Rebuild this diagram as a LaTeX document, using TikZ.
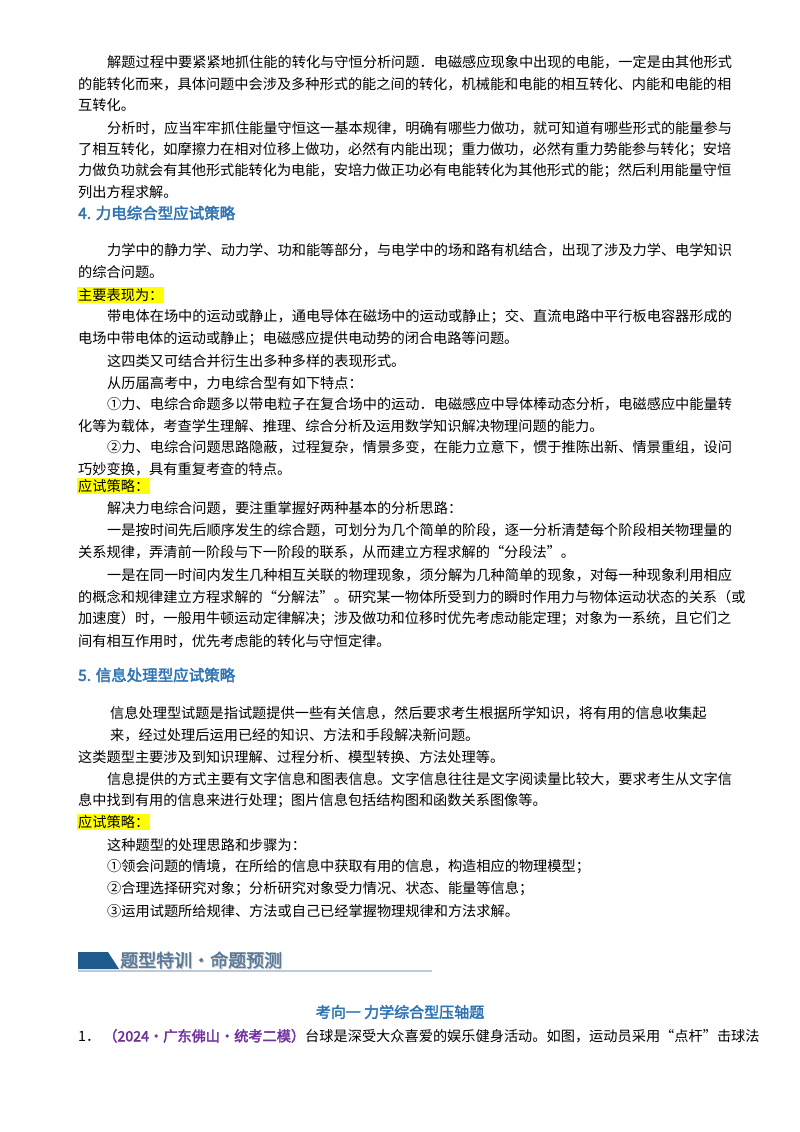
\documentclass[tikz,border=0pt]{standalone}
\usepackage{fontspec}
\setmainfont{Noto Sans CJK SC}[AutoFakeBold=2.5]
\definecolor{hblue}{HTML}{2E74B5}
\definecolor{hl}{HTML}{FFFF00}
\definecolor{purp}{HTML}{7030A0}
\definecolor{bnr}{HTML}{1F5A8C}
\definecolor{bnrt}{HTML}{5B7A9A}
\begin{document}
\begin{tikzpicture}[x=1pt,y=-1pt,
  ln/.style={anchor=west,inner sep=0pt,font=\fontsize{14.2}{16}\selectfont},
  hd/.style={anchor=west,inner sep=0pt,font=\fontsize{15.5}{18}\selectfont\bfseries,text=hblue},
  hilite/.style={fill=hl,inner sep=1pt}]
\useasboundingbox (0,0) rectangle (800,1132);
\fill[white] (0,0) rectangle (800,1132);
\def\L{78}\def\I{107}
\node[ln] (a1) at (\I,62) {解题过程中要紧紧地抓住能的转化与守恒分析问题．电磁感应现象中出现的电能，一定是由其他形式};
\node[ln] (a2) at (\L,84) {的能转化而来，具体问题中会涉及多种形式的能之间的转化，机械能和电能的相互转化、内能和电能的相};
\node[ln] (a3) at (\L,105) {互转化。};
\node[ln] (a4) at (\I,128) {分析时，应当牢牢抓住能量守恒这一基本规律，明确有哪些力做功，就可知道有哪些形式的能量参与};
\node[ln] (a5) at (\L,150) {了相互转化，如摩擦力在相对位移上做功，必然有内能出现；重力做功，必然有重力势能参与转化；安培};
\node[ln] (a6) at (\L,171) {力做负功就会有其他形式能转化为电能，安培力做正功必有电能转化为其他形式的能；然后利用能量守恒};
\node[ln] (a7) at (\L,192) {列出方程求解。};
\node[hd] (h4) at (\L,213) {4. 力电综合型应试策略};
\node[ln] (b1) at (\I,250) {力学中的静力学、动力学、功和能等部分，与电学中的场和路有机结合，出现了涉及力学、电学知识};
\node[ln] (b2) at (\L,272) {的综合问题。};
\node[ln,hilite] (m1) at (\L-1,295) {主要表现为：};
\node[ln] (b3) at (\I,317) {带电体在场中的运动或静止，通电导体在磁场中的运动或静止；交、直流电路中平行板电容器形成的};
\node[ln] (b4) at (\L,339) {电场中带电体的运动或静止；电磁感应提供电动势的闭合电路等问题。};
\node[ln] (b5) at (\I,361) {这四类又可结合并衍生出多种多样的表现形式。};
\node[ln] (b6) at (\I,383) {从历届高考中，力电综合型有如下特点：};
\node[ln] (b7) at (\I,404) {①力、电综合命题多以带电粒子在复合场中的运动．电磁感应中导体棒动态分析，电磁感应中能量转};
\node[ln] (b8) at (\L,426) {化等为载体，考查学生理解、推理、综合分析及运用数学知识解决物理问题的能力。};
\node[ln] (b9) at (\I,447) {②力、电综合问题思路隐蔽，过程复杂，情景多变，在能力立意下，惯于推陈出新、情景重组，设问};
\node[ln] (b10) at (\L,469) {巧妙变换，具有重复考查的特点。};
\node[ln,hilite] (m2) at (\L-1,486) {应试策略：};
\node[ln] (c1) at (\I,508) {解决力电综合问题，要注重掌握好两种基本的分析思路：};
\node[ln] (c2) at (\I,530) {一是按时间先后顺序发生的综合题，可划分为几个简单的阶段，逐一分析清楚每个阶段相关物理量的};
\node[ln] (c3) at (\L,552) {关系规律，弄清前一阶段与下一阶段的联系，从而建立方程求解的“分段法”。};
\node[ln] (c4) at (\I,575) {一是在同一时间内发生几种相互关联的物理现象，须分解为几种简单的现象，对每一种现象利用相应};
\node[ln] (c5) at (\L,597) {的概念和规律建立方程求解的“分解法”。研究某一物体所受到力的瞬时作用力与物体运动状态的关系（或};
\node[ln] (c6) at (\L,619) {加速度）时，一般用牛顿运动定律解决；涉及做功和位移时优先考虑动能定理；对象为一系统，且它们之};
\node[ln] (c7) at (\L,641) {间有相互作用时，优先考虑能的转化与守恒定律。};
\node[hd] (h5) at (\L,675) {5. 信息处理型应试策略};
\node[ln] (d1) at (110,713) {信息处理型试题是指试题提供一些有关信息，然后要求考生根据所学知识，将有用的信息收集起};
\node[ln] (d2) at (110,735) {来，经过处理后运用已经的知识、方法和手段解决新问题。};
\node[ln] (d3) at (\L,757) {这类题型主要涉及到知识理解、过程分析、模型转换、方法处理等。};
\node[ln] (d4) at (\I,779) {信息提供的方式主要有文字信息和图表信息。文字信息往往是文字阅读量比较大，要求考生从文字信};
\node[ln] (d5) at (\L,801) {息中找到有用的信息来进行处理；图片信息包括结构图和函数关系图像等。};
\node[ln,hilite] (m3) at (\L-1,822) {应试策略：};
\node[ln] (e1) at (\I,845) {这种题型的处理思路和步骤为：};
\node[ln] (e2) at (\I,867) {①领会问题的情境，在所给的信息中获取有用的信息，构造相应的物理模型；};
\node[ln] (e3) at (\I,889) {②合理选择研究对象；分析研究对象受力情况、状态、能量等信息；};
\node[ln] (e4) at (\I,911) {③运用试题所给规律、方法或自己已经掌握物理规律和方法求解。};
% banner
\fill[bnr] (78,952) -- (108,952) -- (119,969) -- (78,969) -- cycle;
\draw[bnrt!40,line width=1.2pt] (78,971) -- (432,971);
\node[anchor=west,inner sep=0pt,font=\fontsize{18}{20}\selectfont\bfseries,text=black!15] at (121,961) {题型特训·命题预测};
\node[anchor=west,inner sep=0pt,font=\fontsize{18}{20}\selectfont\bfseries,text=bnrt] (bn) at (120,960) {题型特训·命题预测};
\node[inner sep=0pt,font=\fontsize{15}{18}\selectfont\bfseries,text=hblue] (k1) at (400,1012) {考向一 力学综合型压轴题};
\node[ln] (q1) at (\L,1036) {1．\hspace{3pt}{\bfseries\color{purp}（2024·广东佛山·统考二模）}台球是深受大众喜爱的娱乐健身活动。如图，运动员采用“点杆”击球法};
\end{tikzpicture}
\end{document}
